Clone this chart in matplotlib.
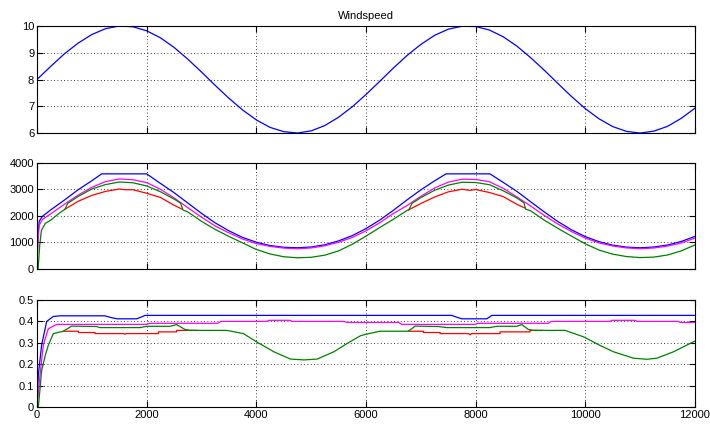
import numpy as np
import matplotlib.pyplot as plt

# STEP 1: data
t_wind = list(range(0, 12001, 250))
windspeed = [8.00, 8.49, 8.96, 9.36, 9.68, 9.90, 10.00, 9.97, 9.82, 9.56, 9.20, 8.76, 8.28,
             7.78, 7.30, 6.86, 6.49, 6.21, 6.05, 6.00, 6.08, 6.28, 6.59, 6.98, 7.44, 7.93,
             8.43, 8.90, 9.31, 9.65, 9.88, 9.99, 9.98, 9.85, 9.60, 9.25, 8.82, 8.35, 7.85,
             7.36, 6.91, 6.53, 6.24, 6.06, 6.00, 6.07, 6.25, 6.55, 6.93]

# power
t_p_blue = [0, 15, 40, 100, 250, 500, 750, 1000, 1180, 2000, 2250, 2500, 2750, 3000, 3250,
            3500, 3750, 4000, 4250, 4500, 4750, 5000, 5250, 5500, 5750, 6000, 6250, 6500,
            6750, 7000, 7250, 7460, 8260, 8500, 8750, 9000, 9250, 9500, 9750, 10000, 10250,
            10500, 10750, 11000, 11250, 11500, 11750, 12000]
p_blue = [0, 1200, 1800, 1990, 2230, 2600, 2990, 3330, 3590, 3590, 3230, 2880, 2490, 2100,
          1740, 1440, 1190, 1010, 885, 820, 800, 830, 915, 1060, 1260, 1525, 1845, 2215, 2610,
          2985, 3325, 3590, 3590, 3270, 2930, 2540, 2155, 1790, 1475, 1220, 1030, 900, 825,
          800, 830, 905, 1040, 1230]

t_p_mag = [0, 15, 40, 100] + list(range(250, 12001, 250))
p_mag = [0, 900, 1650, 1872,
         2080, 2443, 2786, 3082, 3296, 3398, 3367, 3260, 3009, 2682, 2314, 1956,
         1622, 1363, 1132, 957, 853, 788, 763, 794, 876, 1010, 1190, 1440,
         1745, 2095, 2396, 2742, 3055, 3276, 3388, 3378, 3292, 3047, 2723, 2380,
         2020, 1696, 1409, 1165, 982, 867, 795, 765, 793, 864, 982, 1164]

t_p_red = [510, 750, 1000, 1250, 1500, 1600, 1750, 2000, 2250, 2500, 2640, np.nan,
           6773, 7000, 7250, 7500, 7750, 7900, 8000, 8250, 8500, 8750, 8900]
p_red = [2255, 2554, 2778, 2928, 3018, 2992, 2991, 2858, 2700, 2406, 2265, np.nan,
         2227, 2471, 2714, 2910, 3009, 2966, 3000, 2886, 2734, 2443, 2297]

t_p_green = [0, 20, 50, 80, 150, 250, 400, 510, 560, 750, 1000, 1250, 1500, 1750, 2000,
             2250, 2500, 2620, 2660, 2750, 3000, 3250, 3500, 3750, 4000, 4250, 4500, 4750,
             5000, 5250, 5500, 5750, 6000, 6250, 6500, 6750, 6780, 6840, 7000, 7250, 7500,
             7750, 8000, 8250, 8500, 8750, 8880, 8910, 9000, 9250, 9500, 9750, 10000, 10250,
             10500, 10750, 11000, 11250, 11500, 11750, 12000]
p_green = [0, 0, 900, 1450, 1720, 1841, 2097, 2255, 2476, 2736, 3018, 3185, 3283, 3254, 3134,
           2916, 2640, 2480, 2230, 2153, 1800, 1492, 1229, 983, 737, 567, 462, 422,
           442, 522, 683, 933, 1240, 1563, 1877, 2209, 2230, 2476, 2693, 2968, 3165,
           3273, 3264, 3181, 2953, 2681, 2500, 2260, 2198, 1844, 1533, 1236, 949, 713,
           559, 470, 430, 448, 529, 684, 908]

# power coefficient
t_c_blue = [0, 24, 85, 177, 298, 420, 1240, 1350, 1459, 1818, 1900, 1970, 7564, 7650, 7746,
            8202, 8250, 8293, 12000]
c_blue = [0, 0.15, 0.29, 0.40, 0.423, 0.426, 0.426, 0.418, 0.412, 0.412, 0.42, 0.428, 0.428,
          0.42, 0.412, 0.412, 0.42, 0.428, 0.428]

t_c_mag = [0, 55, 116, 207, 359, 2000, 2050, 3300, 3350, 4190, 4230, 4615, 4650, 5600, 5650,
           6600, 6650, 7990, 8040, 9326, 9376, 10452, 10480, 10907, 10940, 11697, 11730, 12000]
c_mag = [0, 0.15, 0.29, 0.366, 0.386, 0.386, 0.391, 0.391, 0.40, 0.40, 0.405, 0.405, 0.40,
         0.40, 0.395, 0.395, 0.386, 0.386, 0.391, 0.391, 0.40, 0.40, 0.405, 0.405, 0.40,
         0.40, 0.395, 0.395]

t_c_red = [480, 754, 754, 1058, 1058, 1580, 1605, 1630, 2213, 2213, 2547, 2547, 2913, np.nan,
           6773, 7047, 7047, 7351, 7351, 7870, 7898, 7926, 8445, 8445, 8992, 8992, 9205]
c_red = [0.354, 0.354, 0.348, 0.348, 0.343, 0.343, 0.34, 0.343, 0.343, 0.351, 0.351, 0.358,
         0.358, np.nan, 0.354, 0.354, 0.348, 0.348, 0.343, 0.343, 0.337, 0.343, 0.343, 0.351,
         0.351, 0.358, 0.358]

t_c_green = [0, 25, 85, 150, 207, 298, 480, 632, 1088, 1150, 1880, 2000, 2426, 2547, 2700,
             2800, 3460, 3764, 4000, 4319, 4623, 4870, 5110, 5414, 5657, 5900, 6000, 6256,
             6773, 6895, 7320, 7470, 8260, 8385, 8749, 8840, 8962, 9050, 9630, 9965, 10250,
             10513, 10878, 11122, 11304, 11608, 11973, 12000]
c_green = [0, 0, 0.17, 0.24, 0.289, 0.343, 0.354, 0.378, 0.376, 0.371, 0.371, 0.377, 0.377,
           0.385, 0.362, 0.358, 0.358, 0.343, 0.305, 0.258, 0.224, 0.22, 0.224, 0.258, 0.297,
           0.333, 0.34, 0.354, 0.354, 0.378, 0.376, 0.371, 0.371, 0.377, 0.377, 0.385, 0.362,
           0.358, 0.358, 0.328, 0.29, 0.258, 0.228, 0.223, 0.228, 0.258, 0.305, 0.308]

x_ticks = [0, 2000, 4000, 6000, 8000, 10000, 12000]

# STEP 2: figure with three stacked axes
plt.rcParams['font.family'] = ['Liberation Sans', 'DejaVu Sans']
plt.rcParams['font.size'] = 8

fig = plt.figure(figsize=(7.1, 4.24), dpi=100)
ax1 = fig.add_axes([0.0521, 0.6863, 0.9268, 0.2524])
ax2 = fig.add_axes([0.0521, 0.3656, 0.9268, 0.2500])
ax3 = fig.add_axes([0.0521, 0.0401, 0.9268, 0.2524])

ax1.plot(t_wind, windspeed, color='#0000ff', lw=0.9)

ax2.plot(t_p_blue, p_blue, color='#0000ff', lw=0.9)
ax2.plot(t_p_mag, p_mag, color='#ff00ff', lw=0.9)
ax2.plot(t_p_red, p_red, color='#ff0000', lw=0.9)
ax2.plot(t_p_green, p_green, color='#008000', lw=0.9)

ax3.plot(t_c_blue, c_blue, color='#0000ff', lw=0.9)
ax3.plot(t_c_mag, c_mag, color='#ff00ff', lw=0.9)
ax3.plot(t_c_red, c_red, color='#ff0000', lw=0.9)
ax3.plot(t_c_green, c_green, color='#008000', lw=0.9)

ax1.set_ylim(6, 10)
ax1.set_yticks([6, 7, 8, 9, 10])
ax2.set_ylim(0, 4000)
ax2.set_yticks([0, 1000, 2000, 3000, 4000])
ax3.set_ylim(0, 0.5)
ax3.set_yticks([0, 0.1, 0.2, 0.3, 0.4, 0.5])
ax3.set_yticklabels(['0', '0.1', '0.2', '0.3', '0.4', '0.5'])

# STEP 3: matlab-ish look
for ax in (ax1, ax2, ax3):
    ax.set_xlim(0, 12000)
    ax.set_xticks(x_ticks)
    ax.grid(True, color='k', linestyle=(0, (1, 3)), linewidth=0.6)
    ax.tick_params(direction='in', length=4, top=True, right=True, pad=2, colors='k')
    for s in ax.spines.values():
        s.set_color('k')
        s.set_linewidth(0.8)

ax1.set_xticklabels([])
ax2.set_xticklabels([])
ax3.set_xticklabels([str(x) for x in x_ticks])

ax1.set_title('Windspeed', fontsize=8, pad=5)

plt.savefig('out.png', dpi=100)
